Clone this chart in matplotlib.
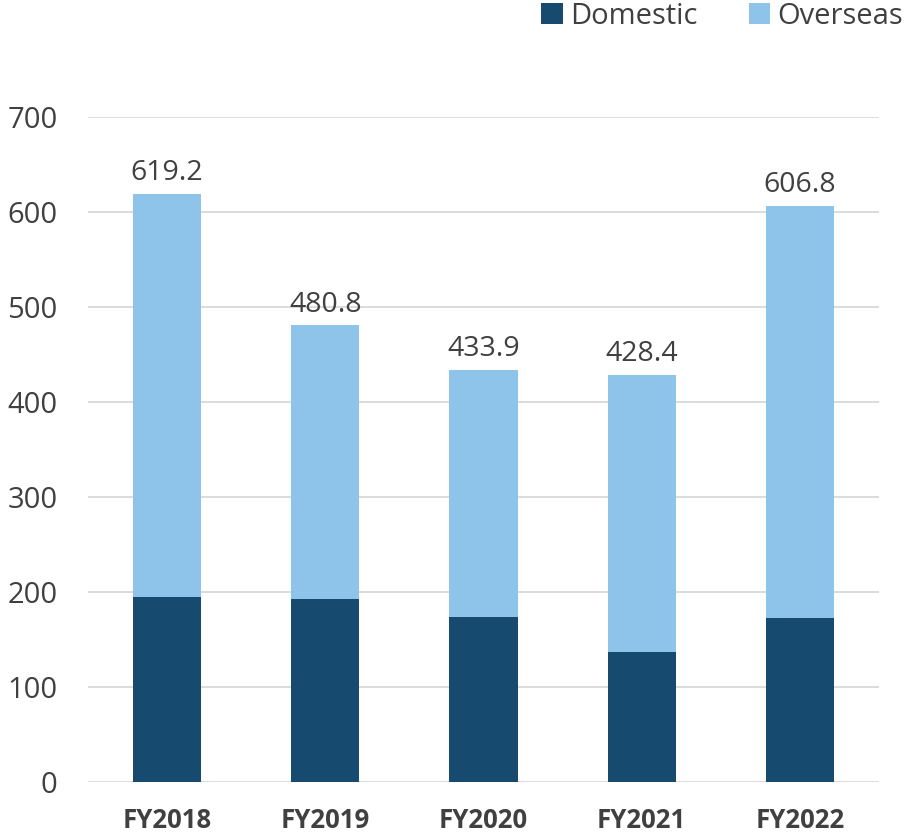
import matplotlib.pyplot as plt
import numpy as np

years = ["FY2018", "FY2019", "FY2020", "FY2021", "FY2022"]
totals = [619.2, 480.8, 433.9, 428.4, 606.8]
domestic = [195.2, 192.7, 173.5, 137.3, 173.1]
overseas = [t - d for t, d in zip(totals, domestic)]

plt.rcParams['font.family'] = ['Open Sans', 'DejaVu Sans']
txt = '#404040'

fig = plt.figure(figsize=(9.07, 8.35), dpi=100)
ax = fig.add_axes([88 / 907, 53 / 835, 791 / 907, 665 / 835])

x = np.arange(len(years))
ax.bar(x, domestic, width=0.43, color='#164A6E', label='Domestic', zorder=3)
ax.bar(x, overseas, width=0.43, bottom=domestic, color='#8FC4EA', label='Overseas', zorder=3)
for xi, t in zip(x, totals):
    ax.text(xi, t + 7, f"{t:.1f}", ha='center', va='bottom', fontsize=20.5, color=txt)

ax.set_xlim(-0.5, 4.5)
ax.set_ylim(0, 700)
ax.set_yticks(range(0, 701, 100))
ax.grid(axis='y', color='#d9d9d9', linewidth=1.3, zorder=0)
for s in ax.spines.values():
    s.set_visible(False)
ax.tick_params(length=0)
ax.tick_params(axis='y', labelsize=21, labelcolor=txt, pad=22)
ax.set_xticks(x)
ax.set_xticklabels(years, fontsize=18.5, fontweight='bold', color=txt)
ax.tick_params(axis='x', pad=18)

fig.legend(loc='upper right', bbox_to_anchor=(915 / 907, 1.012), ncol=2, frameon=False,
           fontsize=21, handlelength=0.75, handleheight=0.75, handletextpad=0.25,
           columnspacing=1.75, labelcolor=txt, borderaxespad=0)

fig.savefig('out.png')
